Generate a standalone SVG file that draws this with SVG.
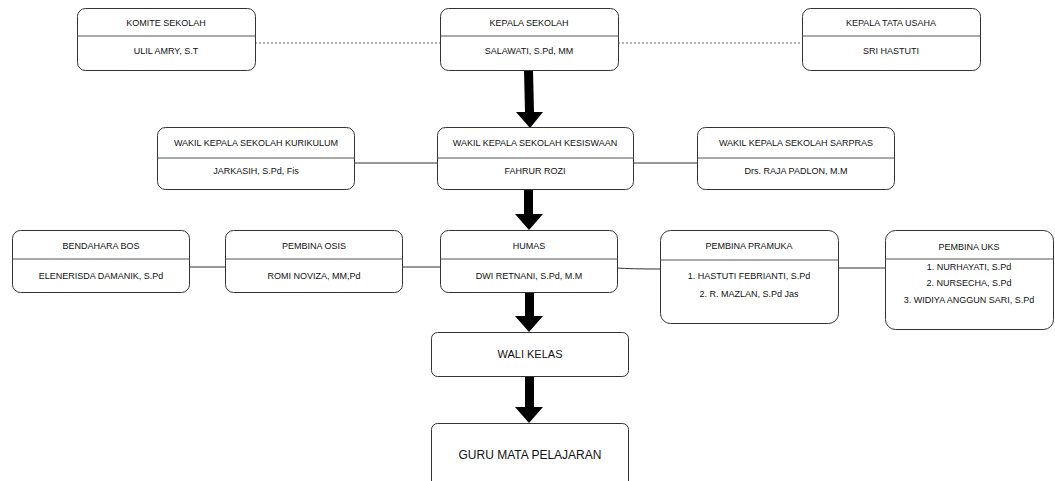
<svg xmlns="http://www.w3.org/2000/svg" width="1055" height="481" viewBox="0 0 1055 481">
<style>
.box{fill:#fff;stroke:#333;stroke-width:1}
.div{stroke:#555;stroke-width:1}
text{font-family:"Liberation Sans",Arial,sans-serif;font-size:9px;fill:#111;text-anchor:middle;dominant-baseline:middle}
.big{font-size:11px}
.big2{font-size:12px}
.dot{stroke:#666;stroke-width:1;stroke-dasharray:2 2;fill:none}
.ln{stroke:#333;stroke-width:1;fill:none}
.arr{fill:#000}
</style>
<rect width="1055" height="481" fill="#fff"/>
<g id="connectors">
<line class="dot" x1="255" y1="43" x2="440" y2="43"/>
<line class="dot" x1="618" y1="43" x2="802" y2="43"/>
<line class="ln" x1="354" y1="163" x2="437" y2="163"/>
<line class="ln" x1="633" y1="163" x2="697" y2="163"/>
<line class="ln" x1="189" y1="267" x2="225" y2="267"/>
<line class="ln" x1="402" y1="267" x2="440" y2="267"/>
<path class="ln" d="M617 268 Q630 269 660 269" stroke="#777"/>
<line class="ln" x1="838" y1="268" x2="885" y2="268" stroke="#777"/>
<path class="arr" d="M524 70 L533 70 L534 112 L543 112 L530 128 L516 112 L525 112 Z"/>
<path class="arr" d="M524 190 L533 190 L533 214 L543 214 L529 230 L515 214 L524 214 Z"/>
<path class="arr" d="M525 292 L534 292 L534 316 L543 316 L529 332 L515 316 L525 316 Z"/>
<path class="arr" d="M525 376 L534 376 L534 407 L543 407 L529 423 L515 407 L525 407 Z"/>
</g>
<g id="komite">
<rect class="box" x="77.5" y="8.5" width="178" height="62" rx="8"/>
<line class="div" x1="77.5" y1="36" x2="255.5" y2="36"/>
<text x="166" y="24">KOMITE SEKOLAH</text>
<text x="166" y="52">ULIL AMRY, S.T</text>
</g>
<g id="kepala">
<rect class="box" x="440.5" y="8.5" width="178" height="62" rx="8"/>
<line class="div" x1="440.5" y1="36" x2="618.5" y2="36"/>
<text x="529" y="24">KEPALA SEKOLAH</text>
<text x="529" y="52">SALAWATI, S.Pd, MM</text>
</g>
<g id="tatausaha">
<rect class="box" x="802.5" y="8.5" width="178" height="62" rx="8"/>
<line class="div" x1="802.5" y1="36" x2="980.5" y2="36"/>
<text x="891" y="24">KEPALA TATA USAHA</text>
<text x="891" y="52">SRI HASTUTI</text>
</g>
<g id="kurikulum">
<rect class="box" x="157.5" y="127.5" width="197" height="62" rx="8"/>
<line class="div" x1="157.5" y1="158" x2="354.5" y2="158"/>
<text x="256" y="144">WAKIL KEPALA SEKOLAH KURIKULUM</text>
<text x="256" y="172">JARKASIH, S.Pd, Fis</text>
</g>
<g id="kesiswaan">
<rect class="box" x="437.5" y="127.5" width="196" height="62" rx="8"/>
<line class="div" x1="437.5" y1="158" x2="633.5" y2="158"/>
<text x="535" y="144">WAKIL KEPALA SEKOLAH KESISWAAN</text>
<text x="535" y="172">FAHRUR ROZI</text>
</g>
<g id="sarpras">
<rect class="box" x="697.5" y="127.5" width="197" height="62" rx="8"/>
<line class="div" x1="697.5" y1="158" x2="894.5" y2="158"/>
<text x="796" y="144">WAKIL KEPALA SEKOLAH SARPRAS</text>
<text x="796" y="172">Drs. RAJA PADLON, M.M</text>
</g>
<g id="bendahara">
<rect class="box" x="12.5" y="230.5" width="177" height="62" rx="8"/>
<line class="div" x1="12.5" y1="259" x2="189.5" y2="259"/>
<text x="101" y="247">BENDAHARA BOS</text>
<text x="101" y="277">ELENERISDA DAMANIK, S.Pd</text>
</g>
<g id="osis">
<rect class="box" x="225.5" y="230.5" width="177" height="62" rx="8"/>
<line class="div" x1="225.5" y1="259" x2="402.5" y2="259"/>
<text x="314" y="247">PEMBINA OSIS</text>
<text x="314" y="277">ROMI NOVIZA, MM,Pd</text>
</g>
<g id="humas">
<rect class="box" x="440.5" y="230.5" width="177" height="62" rx="8"/>
<line class="div" x1="440.5" y1="259" x2="617.5" y2="259"/>
<text x="529" y="247">HUMAS</text>
<text x="529" y="277">DWI RETNANI, S.Pd, M.M</text>
</g>
<g id="pramuka">
<rect class="box" x="660.5" y="230.5" width="178" height="93" rx="10"/>
<line class="div" x1="660.5" y1="260" x2="838.5" y2="260"/>
<text x="749" y="247">PEMBINA PRAMUKA</text>
<text x="749" y="277">1. HASTUTI FEBRIANTI, S.Pd</text>
<text x="749" y="295">2. R. MAZLAN, S.Pd Jas</text>
</g>
<g id="uks">
<rect class="box" x="885.5" y="230.5" width="168" height="99" rx="10"/>
<line class="div" x1="885.5" y1="259" x2="1053.5" y2="259"/>
<text x="969" y="248">PEMBINA UKS</text>
<text x="969" y="268">1. NURHAYATI, S.Pd</text>
<text x="969" y="284">2. NURSECHA, S.Pd</text>
<text x="969" y="301">3. WIDIYA ANGGUN SARI, S.Pd</text>
</g>
<g id="walikelas">
<rect class="box" x="431.5" y="332.5" width="197" height="44" rx="6"/>
<text class="big" x="530" y="355">WALI KELAS</text>
</g>
<g id="guru">
<rect class="box" x="431.5" y="423.5" width="197" height="70" rx="6"/>
<text class="big2" x="530" y="456">GURU MATA PELAJARAN</text>
</g>
</svg>
